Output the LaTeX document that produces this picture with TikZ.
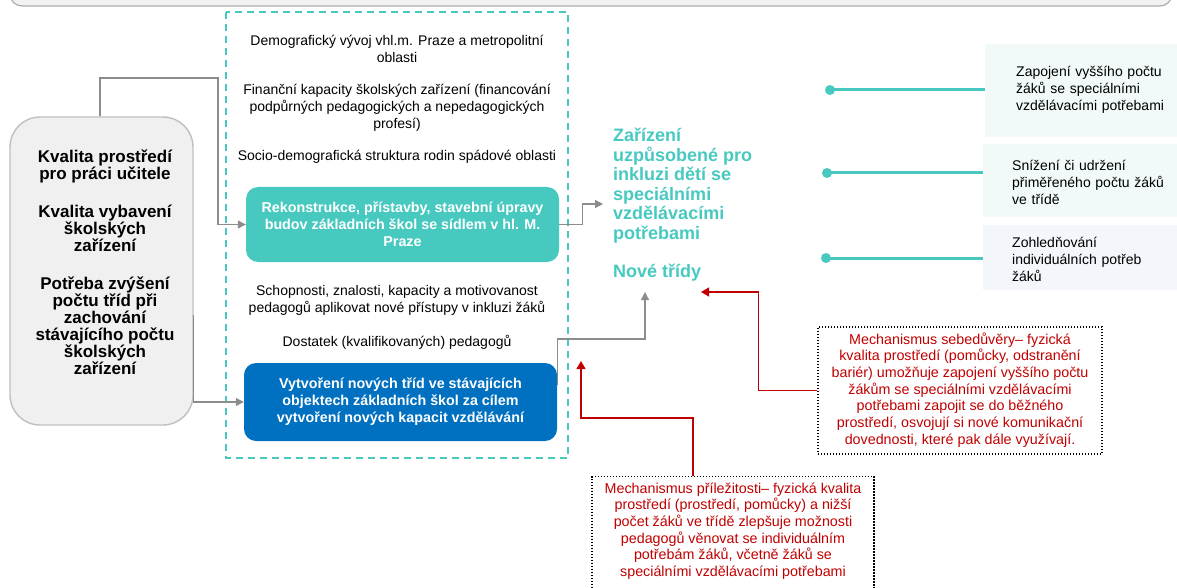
\documentclass[tikz,border=0pt]{standalone}
\usepackage{fontspec}
\setmainfont{Liberation Sans}
\usetikzlibrary{arrows.meta}
\definecolor{tealc}{HTML}{47C9C0}
\definecolor{bluec}{HTML}{0070C0}
\definecolor{redc}{HTML}{C00000}
\definecolor{linec}{HTML}{8C8C8C}
\definecolor{mintc}{HTML}{F1FAF8}
\definecolor{paleblue}{HTML}{F3F6FB}

\begin{document}
\lineskiplimit=-20pt
\begin{tikzpicture}[x=1pt,y=-1pt,
  txt/.style={font=\fontsize{14}{16.8}\selectfont, align=center, inner sep=0pt},
  redtxt/.style={font=\fontsize{14.3}{16.7}\selectfont, align=center, inner sep=0pt, text=redc},
  boldbox/.style={rounded corners=12, minimum width=313, font=\bfseries\fontsize{14.3}{17}\selectfont, text=white, align=center},
  outbox/.style={anchor=north west, font=\fontsize{14}{17}\selectfont, align=left, text width=165, inner sep=0pt},
  mechbox/.style={draw=black, line width=1.4, dash pattern=on 1.4pt off 1.6pt},
  grayarrow/.style={draw=linec, line width=1.2, -{Triangle[length=8,width=8]}},
  redarrow/.style={draw=redc, line width=1.2, -{Triangle[length=8,width=9]}},
  dot/.style={circle, fill=tealc, minimum size=10, inner sep=0pt}]
\useasboundingbox (0,0) rectangle (1177,588);

\draw[draw=gray!65, fill=gray!10, line width=1.2, rounded corners=12] (10,-30) rectangle (1172,6);

\draw[tealc, line width=1.6, dash pattern=on 7pt off 5pt] (226,12) rectangle (568,458);

\node[draw=gray!50, fill=gray!12, line width=1.4, rounded corners=30, minimum width=183, minimum height=308] (kval) at (101.5,271) {};
\node[inner sep=0pt, font=\bfseries\fontsize{17}{17}\selectfont, align=center] (kvaltxt) at (105,262.5)
  {Kvalita prostředí\\pro práci učitele\\[21pt]Kvalita vybavení\\školských\\zařízení\\[21pt]Potřeba zvýšení\\počtu tříd při\\zachování\\stávajícího počtu\\školských\\zařízení};

\node[txt] (demo) at (397,49) {Demografický vývoj vhl.m. Praze a metropolitní\\oblasti};
\node[txt] (fin) at (397,108) {Finanční kapacity školských zařízení (financování\\podpůrných pedagogických a nepedagogických\\profesí)};
\node[txt] (socio) at (397,157) {Socio-demografická struktura rodin spádové oblasti};
\node[boldbox, fill=tealc, minimum height=75] (rekon) at (402.5,224.5)
  {Rekonstrukce, přístavby, stavební úpravy\\budov základních škol se sídlem v hl. M.\\Praze};
\node[txt] (schop) at (397,300.5) {Schopnosti, znalosti, kapacity a motivovanost\\pedagogů aplikovat nové přístupy v inkluzi žáků};
\node[txt] (dost) at (397,342) {Dostatek (kvalifikovaných) pedagogů};
\node[boldbox, fill=bluec, minimum height=78] (vytv) at (400.5,402)
  {Vytvoření nových tříd ve stávajících\\objektech základních škol za cílem\\vytvoření nových kapacit vzdělávání};

\node[anchor=west, inner sep=0pt, align=left, text=tealc, font=\bfseries\fontsize{18}{19.5}\selectfont] (zar) at (613,185.5)
  {Zařízení\\uzpůsobené pro\\inkluzi dětí se\\speciálními\\vzdělávacími\\potřebami};
\node[anchor=west, inner sep=0pt, text=tealc, font=\bfseries\fontsize{18}{19.5}\selectfont] (nove) at (613,273) {Nové třídy};

\node[mechbox, minimum width=284, minimum height=127] (sebed) at (960,390.5) {};
\node[redtxt] (sebedtxt) at (960,390) {Mechanismus sebedůvěry– fyzická\\kvalita prostředí (pomůcky, odstranění\\bariér) umožňuje zapojení vyššího počtu\\žákům se speciálními vzdělávacími\\potřebami zapojit se do běžného\\prostředí, osvojují si nové komunikační\\dovednosti, které pak dále využívají.};
\node[mechbox, anchor=north, minimum width=282, minimum height=130] (prilez) at (733,476) {};
\node[redtxt] (prileztxt) at (733,531) {Mechanismus příležitosti– fyzická kvalita\\prostředí (prostředí, pomůcky) a nižší\\počet žáků ve třídě zlepšuje možnosti\\pedagogů věnovat se individuálním\\potřebám žáků, včetně žáků se\\speciálními vzdělávacími potřebami};

\fill[mintc] (985,44) rectangle (1177,137);
\fill[mintc] (983,144) rectangle (1177,217);
\fill[paleblue] (983,225) rectangle (1177,290);
\node[outbox, anchor=west] (out1) at (1016,90) {Zapojení vyššího počtu\\žáků se speciálními\\vzdělávacími potřebami};
\node[outbox, anchor=west] (out2) at (1012,182) {Snížení či udržení\\přiměřeného počtu žáků\\ve třídě};
\node[outbox, anchor=west] (out3) at (1012,259) {Zohledňování\\individuálních potřeb\\žáků};

\node[dot] (d1) at (830,90) {};
\node[dot] (d2) at (827,173) {};
\node[dot] (d3) at (826,258) {};
\draw[tealc, line width=3] (d1.center) -- (985,90);
\draw[tealc, line width=3] (d2.center) -- (983,173);
\draw[tealc, line width=3] (d3.center) -- (983,258);

\coordinate (zarin) at (603,204);
\coordinate (novein) at (645,292);
\coordinate (redin1) at (581,361);
\coordinate (redin2) at (701,292);

\draw[grayarrow] (kval.north -| 100,0) |- (218,78) |- (rekon.west);
\draw[grayarrow] (kval.east |- 0,315) |- (vytv.west);
\draw[grayarrow] (rekon.east) -- ++(23,0) |- (zarin);
\draw[grayarrow] (vytv.east |- 0,385) -- ++(0,-46) -| (novein);
\draw[redarrow] (prilez.north -| 693,0) -- ++(0,-58) -| (redin1);
\draw[redarrow] (sebed.west) -- ++(-59,0) |- (redin2);
\end{tikzpicture}
\end{document}
